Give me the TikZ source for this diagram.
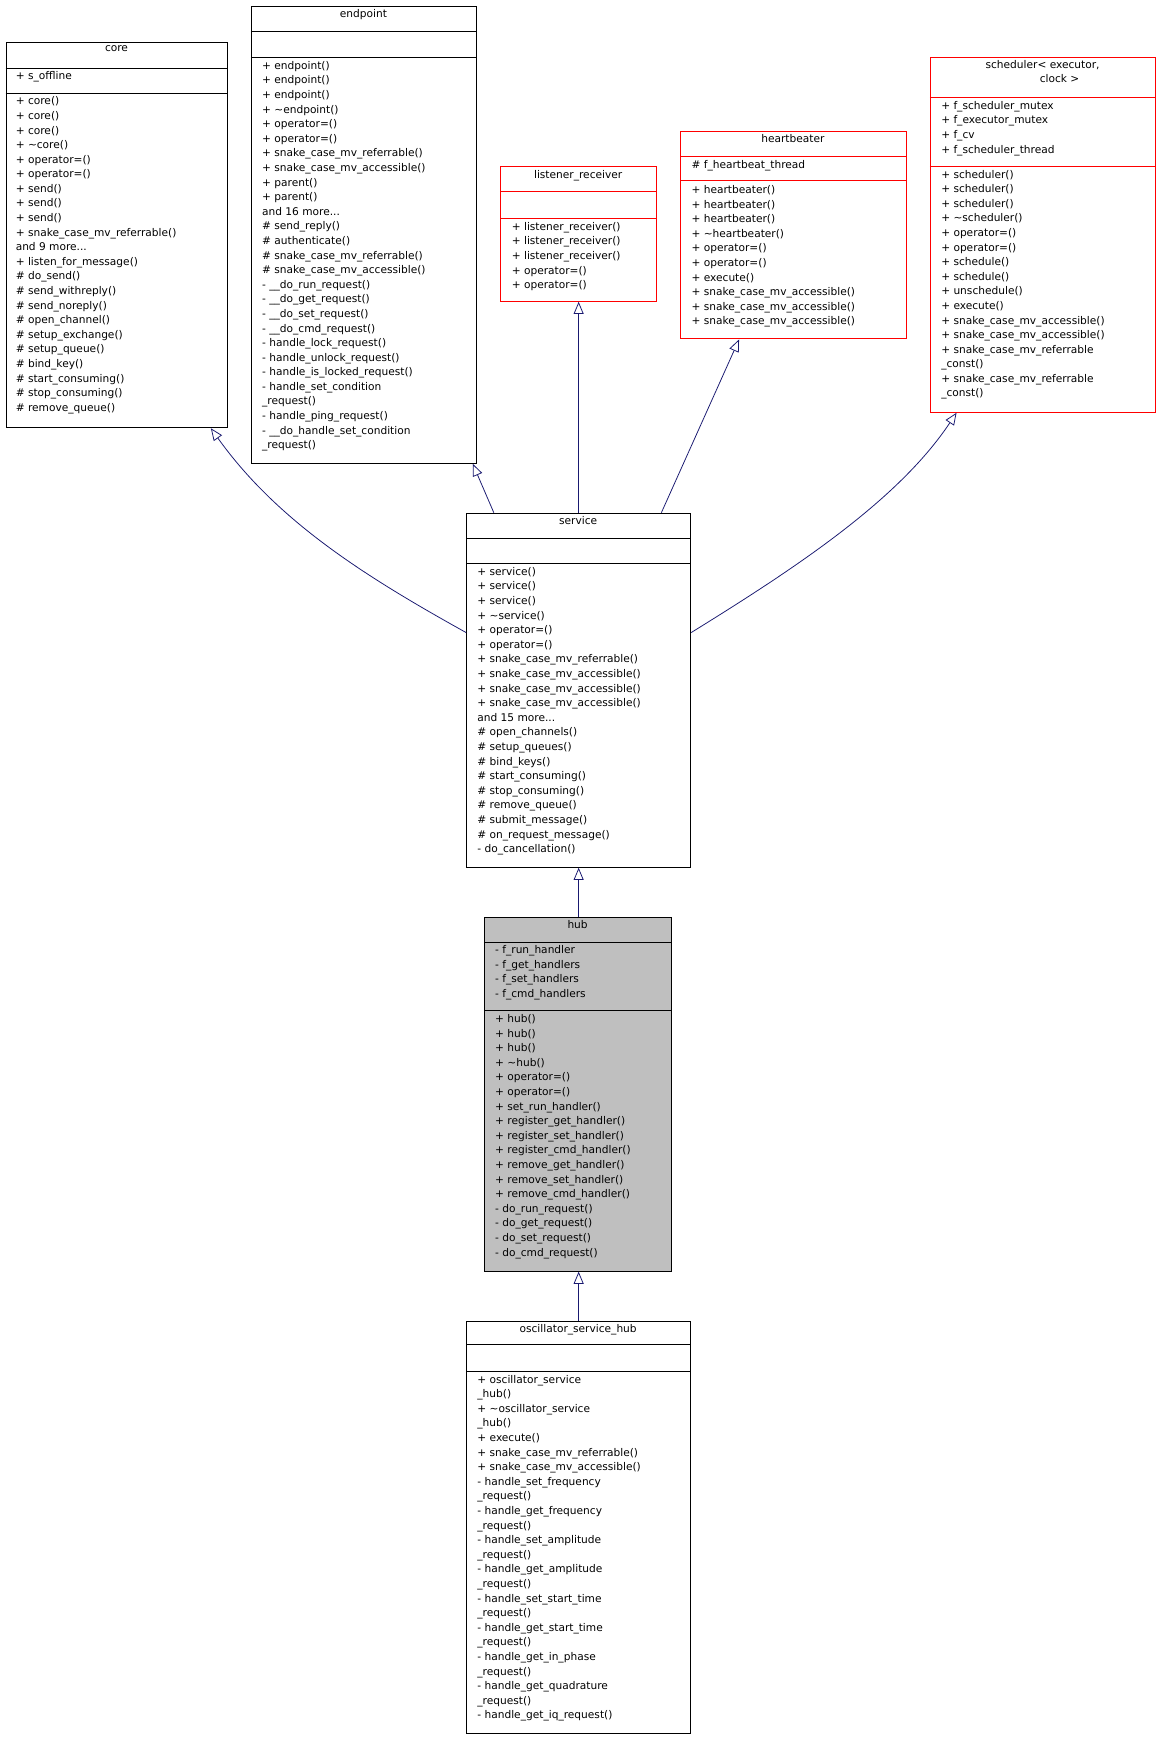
\documentclass[tikz,border=0pt]{standalone}
\usepackage{fontspec}
\setmainfont{DejaVu Sans}
\usetikzlibrary{arrows.meta,calc}
\definecolor{edge}{HTML}{191970}
\tikzset{
  box/.style={draw=#1, line width=0.9bp, inner sep=0, anchor=north west},
  box/.default=black,
  sep/.style={draw=#1, line width=0.9bp},
  sep/.default=black,
  txt/.style={anchor=north west, align=left, inner sep=0, font=\fontsize{9.6}{13.2}\selectfont},
  ttl/.style={anchor=north, align=center, inner sep=0, font=\fontsize{9.6}{13.2}\selectfont},
  inh/.style={draw=edge, line width=0.7bp, -{Triangle[open,length=11bp,width=9bp]}},
}
\newcommand{\us}{\_}
\newcommand{\tl}{\textasciitilde}
\begin{document}
\begin{tikzpicture}[x=1bp,y=-1bp]
\useasboundingbox (0,0) rectangle (1045,1568);
% core
\node[box, minimum width=200bp, minimum height=347bp] (core) at (5,38) {};
\draw[sep] (5,62) -- (205,62) (5,84) -- (205,84);
\node[ttl] (coret) at (105,41) {core};
\node[txt] (corea) at (14,64) {+ s\us offline};
\node[txt] (corem) at (14,87) {+ core()\\+ core()\\+ core()\\+ \tl core()\\+ operator=()\\+ operator=()\\+ send()\\+ send()\\+ send()\\+ snake\us case\us mv\us referrable()\\and 9 more...\\+ listen\us for\us message()\\\# do\us send()\\\# send\us withreply()\\\# send\us noreply()\\\# open\us channel()\\\# setup\us exchange()\\\# setup\us queue()\\\# bind\us key()\\\# start\us consuming()\\\# stop\us consuming()\\\# remove\us queue()};
% endpoint
\node[box, minimum width=203bp, minimum height=412bp] (endp) at (226,5) {};
\draw[sep] (226,28) -- (429,28) (226,52) -- (429,52);
\node[ttl] (endpt) at (327.5,8) {endpoint};
\node[txt] (endpm) at (236,55) {+ endpoint()\\+ endpoint()\\+ endpoint()\\+ \tl endpoint()\\+ operator=()\\+ operator=()\\+ snake\us case\us mv\us referrable()\\+ snake\us case\us mv\us accessible()\\+ parent()\\+ parent()\\and 16 more...\\\# send\us reply()\\\# authenticate()\\\# snake\us case\us mv\us referrable()\\\# snake\us case\us mv\us accessible()\\- \us\us do\us run\us request()\\- \us\us do\us get\us request()\\- \us\us do\us set\us request()\\- \us\us do\us cmd\us request()\\- handle\us lock\us request()\\- handle\us unlock\us request()\\- handle\us is\us locked\us request()\\- handle\us set\us condition\\\us request()\\- handle\us ping\us request()\\- \us\us do\us handle\us set\us condition\\\us request()};
% listener_receiver
\node[box=red, minimum width=140bp, minimum height=121bp] (lr) at (451,150) {};
\draw[sep=red] (451,173) -- (591,173) (451,197) -- (591,197);
\node[ttl] (lrt) at (521,153) {listener\us receiver};
\node[txt] (lrm) at (461,200) {+ listener\us receiver()\\+ listener\us receiver()\\+ listener\us receiver()\\+ operator=()\\+ operator=()};
% heartbeater
\node[box=red, minimum width=203bp, minimum height=187bp] (hb) at (613,118) {};
\draw[sep=red] (613,141) -- (816,141) (613,163) -- (816,163);
\node[ttl] (hbt) at (714.5,121) {heartbeater};
\node[txt] (hba) at (623,144) {\# f\us heartbeat\us thread};
\node[txt] (hbm) at (623,167) {+ heartbeater()\\+ heartbeater()\\+ heartbeater()\\+ \tl heartbeater()\\+ operator=()\\+ operator=()\\+ execute()\\+ snake\us case\us mv\us accessible()\\+ snake\us case\us mv\us accessible()\\+ snake\us case\us mv\us accessible()};
% scheduler
\node[box=red, minimum width=203bp, minimum height=320bp] (sch) at (838,51) {};
\draw[sep=red] (838,88) -- (1041,88) (838,150) -- (1041,150);
\node[ttl] (scht) at (939.5,54) {scheduler< executor,\\\hspace*{3.2em}clock >};
\node[txt] (scha) at (848,91) {+ f\us scheduler\us mutex\\+ f\us executor\us mutex\\+ f\us cv\\+ f\us scheduler\us thread};
\node[txt] (schm) at (848,153) {+ scheduler()\\+ scheduler()\\+ scheduler()\\+ \tl scheduler()\\+ operator=()\\+ operator=()\\+ schedule()\\+ schedule()\\+ unschedule()\\+ execute()\\+ snake\us case\us mv\us accessible()\\+ snake\us case\us mv\us accessible()\\+ snake\us case\us mv\us referrable\\\us const()\\+ snake\us case\us mv\us referrable\\\us const()};
% service
\node[box, minimum width=202bp, minimum height=319bp] (svc) at (420,462) {};
\draw[sep] (420,485) -- (622,485) (420,508) -- (622,508);
\node[ttl] (svct) at (521,465) {service};
\node[txt] (svcm) at (430,511) {+ service()\\+ service()\\+ service()\\+ \tl service()\\+ operator=()\\+ operator=()\\+ snake\us case\us mv\us referrable()\\+ snake\us case\us mv\us accessible()\\+ snake\us case\us mv\us accessible()\\+ snake\us case\us mv\us accessible()\\and 15 more...\\\# open\us channels()\\\# setup\us queues()\\\# bind\us keys()\\\# start\us consuming()\\\# stop\us consuming()\\\# remove\us queue()\\\# submit\us message()\\\# on\us request\us message()\\- do\us cancellation()};
% hub
\node[box, fill=black!25, minimum width=169bp, minimum height=319bp] (hub) at (436,826) {};
\draw[sep] (436,849) -- (605,849) (436,911) -- (605,911);
\node[ttl] (hubt) at (520.5,829) {hub};
\node[txt] (huba) at (446,852) {- f\us run\us handler\\- f\us get\us handlers\\- f\us set\us handlers\\- f\us cmd\us handlers};
\node[txt] (hubm) at (446,914) {+ hub()\\+ hub()\\+ hub()\\+ \tl hub()\\+ operator=()\\+ operator=()\\+ set\us run\us handler()\\+ register\us get\us handler()\\+ register\us set\us handler()\\+ register\us cmd\us handler()\\+ remove\us get\us handler()\\+ remove\us set\us handler()\\+ remove\us cmd\us handler()\\- do\us run\us request()\\- do\us get\us request()\\- do\us set\us request()\\- do\us cmd\us request()};
% oscillator
\node[box, minimum width=202bp, minimum height=372bp] (osc) at (420,1190) {};
\draw[sep] (420,1212) -- (622,1212) (420,1236) -- (622,1236);
\node[ttl] (osct) at (521,1193) {oscillator\us service\us hub};
\node[txt] (oscm) at (430,1239) {+ oscillator\us service\\\us hub()\\+ \tl oscillator\us service\\\us hub()\\+ execute()\\+ snake\us case\us mv\us referrable()\\+ snake\us case\us mv\us accessible()\\- handle\us set\us frequency\\\us request()\\- handle\us get\us frequency\\\us request()\\- handle\us set\us amplitude\\\us request()\\- handle\us get\us amplitude\\\us request()\\- handle\us set\us start\us time\\\us request()\\- handle\us get\us start\us time\\\us request()\\- handle\us get\us in\us phase\\\us request()\\- handle\us get\us quadrature\\\us request()\\- handle\us get\us iq\us request()};
% edges
\draw[inh] (svc.west |- 0,570) .. controls (330,520) and (250,470) .. ($(core.south west)+(185,0)$);
\draw[inh] ($(svc.north west)+(25,0)$) -- ($(endp.south west)+(200,0)$);
\draw[inh] (svc.north -| lr.south) -- (lr.south);
\draw[inh] ($(svc.north west)+(176,0)$) -- ($(hb.south west)+(53,0)$);
\draw[inh] (svc.east |- 0,570) .. controls (720,510) and (810,450) .. ($(sch.south west)+(24,0)$);
\draw[inh] (hub.north -| svc.south) -- (svc.south);
\draw[inh] (osc.north) -- (hub.south -| osc.north);
\end{tikzpicture}
\end{document}
